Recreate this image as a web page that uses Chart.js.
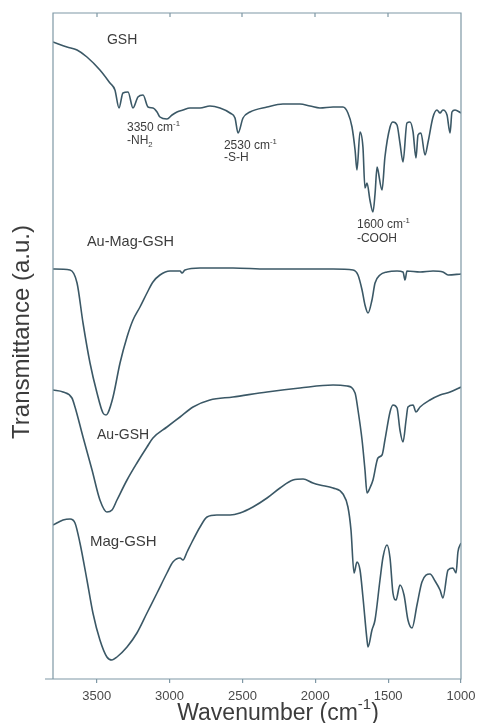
<!DOCTYPE html>
<html>
<head>
<meta charset="utf-8">
<title>FTIR spectra</title>
<script src="https://cdn.jsdelivr.net/npm/chart.js@4.4.0/dist/chart.umd.min.js"></script>
<style>
  html, body { margin: 0; padding: 0; background: #ffffff; }
  #wrap { width: 478px; height: 723px; }
</style>
</head>
<body>
<div id="wrap"><canvas id="ftirChart" width="478" height="723"></canvas></div>
<script>
// Axis ticks (cm-1)
const xTickValues = [3500, 3000, 2500, 2000, 1500, 1000];
const xMin = 1000;
const xMax = 3800;

// Traces, offset stacked (a.u.)
const gshWavenumber = [3800, 3704, 3635, 3567, 3478, 3409, 3375, 3347, 3320, 3285, 3251, 3217, 3182, 3148, 3114, 3086, 3066, 3018, 2983, 2949, 2908, 2860, 2791, 2723, 2654, 2585, 2551, 2530, 2496, 2448, 2331, 2222, 2105, 2036, 1968, 1878, 1810, 1776, 1748, 1727, 1714, 1693, 1673, 1659, 1645, 1625, 1604, 1590, 1576, 1570, 1542, 1522, 1487, 1467, 1439, 1419, 1398, 1371, 1350, 1329, 1309, 1295, 1275, 1247, 1226, 1192, 1165, 1144, 1124, 1096, 1075, 1062, 1041, 1000];
const gshT = [637, 632, 629, 622, 609, 596, 589, 571, 586, 587, 571, 582, 584, 572, 571, 567, 562, 560, 564, 567, 569, 571, 571, 573, 571, 566, 561, 546, 561, 567, 572, 575, 575, 573, 571, 572, 572, 566, 552, 529, 509, 547, 532, 491, 496, 479, 467, 485, 512, 509, 489, 522, 552, 557, 554, 536, 517, 556, 557, 547, 521, 544, 546, 524, 537, 562, 569, 566, 569, 564, 546, 567, 569, 566];

const auMagWavenumber = [3800, 3683, 3635, 3594, 3546, 3498, 3457, 3436, 3423, 3388, 3340, 3292, 3251, 3203, 3155, 3114, 3066, 2997, 2928, 2915, 2894, 2791, 2565, 2331, 2105, 1878, 1741, 1707, 1679, 1659, 1638, 1611, 1590, 1556, 1508, 1439, 1398, 1384, 1371, 1281, 1192, 1124, 1089, 1000];
const auMagT = [410, 409, 396, 356, 316, 286, 266, 264, 266, 282, 316, 342, 359, 372, 386, 397, 404, 408, 408, 406, 409, 411, 411, 410, 410, 410, 409, 404, 389, 374, 366, 379, 396, 404, 407, 408, 407, 399, 408, 407, 408, 407, 404, 405];

const auWavenumber = [3800, 3731, 3670, 3649, 3594, 3532, 3478, 3430, 3395, 3361, 3292, 3224, 3155, 3114, 3018, 2928, 2839, 2723, 2565, 2331, 2105, 1878, 1782, 1727, 1707, 1679, 1659, 1645, 1625, 1604, 1570, 1542, 1522, 1487, 1467, 1439, 1419, 1398, 1377, 1364, 1329, 1309, 1281, 1213, 1144, 1075, 1000];
const auT = [289, 287, 281, 272, 242, 209, 179, 167, 169, 179, 199, 216, 232, 241, 252, 262, 272, 279, 282, 287, 291, 294, 293, 286, 269, 239, 209, 186, 191, 199, 221, 224, 239, 267, 274, 271, 249, 237, 259, 272, 274, 267, 272, 279, 284, 287, 292];

const magWavenumber = [3800, 3731, 3683, 3649, 3615, 3567, 3526, 3478, 3430, 3395, 3361, 3292, 3224, 3155, 3086, 3018, 2977, 2928, 2908, 2880, 2846, 2791, 2743, 2675, 2585, 2517, 2428, 2331, 2242, 2153, 2084, 2016, 1968, 1878, 1810, 1776, 1755, 1734, 1714, 1693, 1673, 1645, 1638, 1611, 1590, 1556, 1535, 1508, 1487, 1467, 1446, 1419, 1391, 1364, 1336, 1302, 1268, 1213, 1178, 1144, 1124, 1089, 1055, 1034, 1021, 1000];
const magT = [154, 159, 160, 156, 136, 99, 66, 39, 22, 19, 22, 32, 46, 66, 86, 106, 117, 121, 119, 127, 137, 152, 162, 164, 164, 166, 172, 181, 191, 199, 200, 196, 194, 191, 185, 172, 149, 106, 117, 109, 82, 39, 32, 49, 59, 99, 122, 134, 121, 86, 79, 94, 84, 59, 51, 74, 97, 105, 98, 89, 81, 109, 111, 106, 127, 136];

// Text placed in data space: [wavenumber, value, segments, font size]
const sampleLabels = [
  [3430, 639, [{ t: 'GSH' }], 14],
  [3567, 437, [{ t: 'Au-Mag-GSH' }], 14.5],
  [3498, 244, [{ t: 'Au-GSH' }], 14],
  [3546, 137, [{ t: 'Mag-GSH' }], 15],
];
const bandLabels = [
  [3292, 551, [{ t: '3350 cm' }, { t: '-1', sup: true }], 12],
  [3292, 538, [{ t: '-NH' }, { t: '2', sub: true }], 12],
  [2627, 533, [{ t: '2530 cm' }, { t: '-1', sup: true }], 12],
  [2627, 521, [{ t: '-S-H' }], 12],
  [1714, 454, [{ t: '1600 cm' }, { t: '-1', sup: true }], 12],
  [1714, 440, [{ t: '-COOH' }], 12],
];

const lineColor = '#3b5866';
const frameColor = '#7f98a5';
const textColor = '#3c3c3c';
const fontFamily = '"Liberation Sans", Arial, sans-serif';

function toPoints(xs, ys) {
  return xs.map((x, i) => ({ x: x, y: ys[i] }));
}

function makeDataset(label, xs, ys) {
  return {
    label: label,
    data: toPoints(xs, ys),
    borderColor: lineColor,
    borderWidth: 1.6,
    pointRadius: 0,
    fill: false,
    cubicInterpolationMode: 'monotone',
  };
}

// draws text made of normal / superscript / subscript parts
function drawRich(ctx, segments, x, y, size, align) {
  const widths = segments.map((s) => {
    const fs = s.sup || s.sub ? size * 0.65 : size;
    ctx.font = fs + 'px ' + fontFamily;
    return ctx.measureText(s.t).width;
  });
  const total = widths.reduce((a, b) => a + b, 0);
  let cx = align === 'center' ? x - total / 2 : x;
  segments.forEach((s, i) => {
    const fs = s.sup || s.sub ? size * 0.65 : size;
    ctx.font = fs + 'px ' + fontFamily;
    let dy = 0;
    if (s.sup) dy = -size * 0.38;
    if (s.sub) dy = size * 0.28;
    ctx.fillText(s.t, cx, y + dy);
    cx += widths[i];
  });
}

const decorPlugin = {
  id: 'ftirDecor',
  afterDraw(chart) {
    const { ctx, chartArea: a } = chart;
    const xs = chart.scales.x;
    const ys = chart.scales.y;
    ctx.save();

    // frame
    ctx.strokeStyle = frameColor;
    ctx.lineWidth = 1.2;
    ctx.beginPath();
    ctx.moveTo(a.left - 8, a.bottom);
    ctx.lineTo(a.right, a.bottom);
    ctx.lineTo(a.right, a.top);
    ctx.lineTo(a.left, a.top);
    ctx.lineTo(a.left, a.bottom);
    // inward ticks on top edge
    xTickValues.forEach((v) => {
      const px = Math.round(xs.getPixelForValue(v));
      ctx.moveTo(px, a.top);
      ctx.lineTo(px, a.top + 4);
    });
    ctx.stroke();

    // labels
    ctx.fillStyle = textColor;
    ctx.textBaseline = 'middle';
    ctx.textAlign = 'left';
    sampleLabels.concat(bandLabels).forEach(([w, v, segs, size]) => {
      drawRich(ctx, segs, xs.getPixelForValue(w), ys.getPixelForValue(v), size, 'left');
    });

    // axis titles
    drawRich(
      ctx,
      [{ t: 'Wavenumber (cm' }, { t: '-1', sup: true }, { t: ')' }],
      278, 714, 23, 'center'
    );
    ctx.translate(22, 332);
    ctx.rotate(-Math.PI / 2);
    drawRich(ctx, [{ t: 'Transmittance (a.u.)' }], 0, 0, 24, 'center');
    ctx.restore();
  },
};

const ctx = document.getElementById('ftirChart');
new Chart(ctx, {
  type: 'line',
  data: {
    datasets: [
      makeDataset('GSH', gshWavenumber, gshT),
      makeDataset('Au-Mag-GSH', auMagWavenumber, auMagT),
      makeDataset('Au-GSH', auWavenumber, auT),
      makeDataset('Mag-GSH', magWavenumber, magT),
    ],
  },
  options: {
    responsive: false,
    animation: false,
    devicePixelRatio: 1,
    layout: { padding: { left: 53, right: 17, top: 13, bottom: 0 } },
    plugins: {
      legend: { display: false },
      tooltip: { enabled: false },
    },
    scales: {
      x: {
        type: 'linear',
        reverse: true,
        min: xMin,
        max: xMax,
        afterBuildTicks: (scale) => {
          scale.ticks = xTickValues.map((v) => ({ value: v }));
        },
        afterFit: (scale) => {
          scale.height = 44;
          scale.paddingRight = 0;
          scale.paddingLeft = 0;
        },
        border: { display: false },
        grid: {
          drawOnChartArea: false,
          drawTicks: true,
          tickLength: 4,
          color: frameColor,
          lineWidth: 1.2,
        },
        ticks: {
          padding: 6,
          color: '#4a4a4a',
          font: { family: fontFamily, size: 13 },
          maxRotation: 0,
          callback: (v) => String(v),
        },
      },
      y: {
        display: false,
        min: 0,
        max: 666,
      },
    },
  },
  plugins: [decorPlugin],
});
</script>
</body>
</html>
